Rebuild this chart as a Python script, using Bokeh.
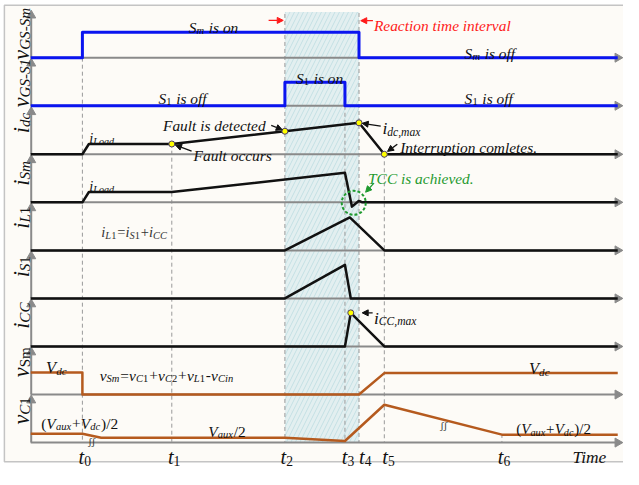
import math
from bokeh.plotting import figure
from bokeh.models import Range1d, Arrow, NormalHead
from bokeh.core.properties import value
from bokeh.embed import file_html
from bokeh.resources import INLINE

# ---------------- data (time in arbitrary units) ----------------
t_labels = ["0", "1", "2", "3", "4", "5", "6"]
t_marks = [1.000, 2.730, 4.919, 6.081, 6.353, 6.843, 9.119]
T0, T1, T2, T3, T4, T5, T6 = t_marks
T_END = 11.36

vgs_sm_t = [0.0, T0, T0, T4, T4, T_END]
vgs_sm_v = [0, 0, 1.0, 1.0, 0, 0]
vgs_s1_t = [0.0, T2, T2, T3, T3, T_END]
vgs_s1_v = [0, 0, 0.92, 0.92, 0, 0]
idc_t = [0.0, T0, 1.126, T1, T2, T4, T5, T_END]
idc_v = [0, 0, 1.0, 1.0, 2.24, 3.06, 0, 0]
ism_t = [0.0, T0, 1.126, T1, T3, 6.217, T4, 6.42, T_END]
ism_v = [0, 0, 1.0, 1.0, 2.87, -0.42, 0.15, 0, 0]
il1_t = [0.0, T2, 6.175, T5, T_END]
il1_v = [0, 0, 3.2, 0, 0]
is1_t = [0.0, T2, T3, 6.194, T_END]
is1_v = [0, 0, 3.27, 0, 0]
icc_t = [0.0, T3, 6.194, T5, T_END]
icc_v = [0, 0, 3.27, 0, 0]
vsm_t = [0.0, T0, T0, T4, T5, T_END]
vsm_v = [1.0, 1.0, 0, 0, 0.97, 0.97]
vc1_t = [0.0, T0, 1.364, T2, T3, T5, T6, T_END]
vc1_v = [0.40, 0.40, 0.22, 0.22, 0.07, 1.71, 0.36, 0.36]

# key points (yellow dots)
idc_pts_t = [T1, T2, T4, T5]
idc_pts_v = [1.0, 2.24, 3.06, 0.0]
icc_pt_t = [6.194]
icc_pt_v = [3.27]

# ---------------- layout ----------------
PX0, PPU = 31.0, 53.0          # reference px of time origin, px per time unit
REF_W, REF_H = 639.0, 488.0
BASES = [59.5, 109.5, 160, 210, 260, 310, 360, 410, 460]
SCALES = [26.5, 26.5, 10.7, 10.7, 10.7, 10.7, 10.7, 23.0, 23.0]
S = 0.965

def X(px):
    return (px - PX0) / PPU

def Y(py):
    return REF_H - py

def PY(i, v):
    return BASES[i] - SCALES[i] * v

p = figure(width=623, height=469, output_backend="svg", toolbar_location=None,
           x_range=Range1d(X(0), X(REF_W)), y_range=Range1d(0, REF_H),
           x_axis_type=None, y_axis_type=None, min_border=0)
p.grid.visible = False
p.outline_line_color = None
p.background_fill_color = "white"
p.border_fill_color = "white"

# frame
p.quad(left=[X(4)], right=[X(660)], top=[Y(5)], bottom=[Y(480)],
       fill_color="#fdfbf7", line_color="#c4c4c4", line_width=1.5)

# shaded reaction interval
p.quad(left=[T2], right=[T4], top=[Y(12)], bottom=[Y(460)],
       fill_color="#e3eff0", line_color=None,
       hatch_pattern="/", hatch_color="#c4e0e4", hatch_scale=9, hatch_weight=1)

# dashed time markers (top, bottom in ref px)
dash_spans = [(59.5, 460), (149, 460), (14, 460), (109.5, 460), (13, 460), (160, 460), (451, 460)]
for tm, (a, b) in zip(t_marks, dash_spans):
    p.segment(x0=[tm], y0=[Y(a)], x1=[tm], y1=[Y(b)], line_color="#9a9a9a",
              line_width=1, line_dash="4 3")

# axes
AX = "#8a8a8a"
for i, b in enumerate(BASES):
    p.segment(x0=[X(31)], y0=[Y(b)], x1=[X(631)], y1=[Y(b)], line_color=AX, line_width=2)
    p.scatter(x=[X(633)], y=[Y(b)], marker="triangle", size=9, angle=-math.pi / 2,
              fill_color=AX, line_color=AX)
    p.segment(x0=[X(31.5)], y0=[Y(b)], x1=[X(31.5)], y1=[Y(b - 42)], line_color=AX, line_width=2)
    p.scatter(x=[X(31.5)], y=[Y(b - 44)], marker="triangle", size=9,
              fill_color=AX, line_color=AX)

# signals
BLUE, BLACK, BROWN = "#0a14f0", "#111111", "#b55a1e"
signals = [
    (0, vgs_sm_t, vgs_sm_v, BLUE, 3),
    (1, vgs_s1_t, vgs_s1_v, BLUE, 3),
    (2, idc_t, idc_v, BLACK, 2.5),
    (3, ism_t, ism_v, BLACK, 2.5),
    (4, il1_t, il1_v, BLACK, 2.5),
    (5, is1_t, is1_v, BLACK, 2.5),
    (6, icc_t, icc_v, BLACK, 2.5),
    (7, vsm_t, vsm_v, BROWN, 2.5),
    (8, vc1_t, vc1_v, BROWN, 2.5),
]
for i, ts, vs, col, lw in signals:
    p.line(x=ts, y=[Y(PY(i, v)) for v in vs], line_color=col, line_width=lw, line_join="round")

# yellow dots
p.scatter(x=idc_pts_t, y=[Y(PY(2, v)) for v in idc_pts_v], size=6,
          fill_color="#ffff00", line_color="#4b3b6b", line_width=1)
p.scatter(x=icc_pt_t, y=[Y(PY(6, v)) for v in icc_pt_v], size=6,
          fill_color="#ffff00", line_color="#4b3b6b", line_width=1)

GREEN = "#1f9a2f"
RED = "#ff1a1a"
p.scatter(x=[X(362.3)], y=[Y(210.5)], marker="circle", size=24, fill_color=None,
          line_color=GREEN, line_width=2, line_dash="3 2")

# ---------------- text helpers ----------------
W_IT = {'a': 500, 'b': 500, 'c': 444, 'd': 500, 'e': 444, 'f': 278, 'g': 500, 'h': 500,
        'i': 278, 'j': 278, 'k': 444, 'l': 278, 'm': 722, 'n': 500, 'o': 500, 'p': 500,
        'q': 500, 'r': 389, 's': 389, 't': 278, 'u': 500, 'v': 444, 'w': 667, 'x': 444,
        'y': 444, 'z': 389, 'A': 611, 'C': 667, 'D': 722, 'F': 611, 'G': 722, 'I': 333,
        'L': 556, 'M': 833, 'R': 611, 'S': 500, 'T': 556, 'V': 611, ' ': 250, '.': 250,
        ',': 250, '-': 333, '(': 333, ')': 333, '/': 278, '=': 675, '+': 675}
W_RG = {' ': 250, '=': 564, '+': 564, '-': 333, '(': 333, ')': 333, '/': 278, '.': 250}

def wid(s, italic):
    tab = W_IT if italic else W_RG
    return sum(tab.get(ch, 500) for ch in s) / 1000.0

def rich(px, py, runs, F, color="#111111", angle=0.0, sub=0.68, drop=0.22, align="left"):
    items, total, prev_sub = [], 0.0, False
    for txt, kind in runs:
        is_sub = kind.startswith("s")
        italic = kind.endswith("i")
        size = F * sub if is_sub else F
        if prev_sub and not is_sub:
            total += 0.05 * F
        # leading spaces are collapsed in SVG text: turn them into an advance
        stripped = txt.lstrip(" ")
        total += (len(txt) - len(stripped)) * 0.25 * size
        items.append((stripped, size, italic, is_sub, total))
        total += wid(stripped, italic) * size
        prev_sub = is_sub
    off0 = -total / 2 if align == "center" else 0.0
    ca, sa = math.cos(angle), math.sin(angle)
    for txt, size, italic, is_sub, adv in items:
        a = adv + off0
        d = F * drop if is_sub else 0.0
        x = px + a * ca + d * sa
        y = py - a * sa + d * ca
        p.text(x=[X(x)], y=[Y(y)], text=[txt], angle=angle,
               text_font=value("Liberation Serif"),
               text_font_style="italic" if italic else "normal",
               text_font_size=f"{size * S:.1f}px", text_color=color,
               text_align="left", text_baseline="alphabetic")

def arrow(x0, y0, x1, y1, color="#111111"):
    p.add_layout(Arrow(x_start=X(x0), y_start=Y(y0), x_end=X(x1), y_end=Y(y1),
                       line_color=color, line_width=1.3,
                       end=NormalHead(size=6, fill_color=color, line_color=color)))

# y-axis labels (rotated)
ylabels = [
    [("v", "i"), ("GS-Sm", "si")],
    [("v", "i"), ("GS-S1", "si")],
    [("i", "i"), ("dc", "si")],
    [("i", "i"), ("Sm", "si")],
    [("i", "i"), ("L", "si"), ("1", "sr")],
    [("i", "i"), ("S", "si"), ("1", "sr")],
    [("i", "i"), ("CC", "si")],
    [("v", "i"), ("Sm", "sr")],
    [("v", "i"), ("C", "si"), ("1", "sr")],
]
ycent = [34.7, 86, 127.5, 180, 226, 277, 328, 379, 427]
for runs, yc in zip(ylabels, ycent):
    rich(22, yc, runs, 23, angle=math.pi / 2, align="center", sub=0.68, drop=0.12)

# state annotations
rich(193, 28, [("S", "i"), ("m", "si"), (" is on", "i")], 16)
rich(476, 55, [("S", "i"), ("m", "si"), (" is off", "i")], 16)
rich(162, 101.5, [("S", "i"), ("1", "sr"), (" is off", "i")], 16)
rich(303, 81, [("S", "i"), ("1", "sr"), (" is on", "i")], 16)
rich(476, 101.5, [("S", "i"), ("1", "sr"), (" is off", "i")], 16)
rich(383, 26, [("Reaction time interval", "i")], 16, color=RED)
arrow(275, 20.7, 290, 20.7, RED)
arrow(382, 21, 369.5, 21, RED)

rich(91, 143, [("i", "i"), ("Load", "si")], 15, sub=0.7)
rich(91, 193.3, [("i", "i"), ("Load", "si")], 15, sub=0.7)
rich(166.7, 130.5, [("Fault is detected", "i")], 16)
arrow(277.7, 130, 289, 134.5)
rich(198, 161, [("Fault occurs", "i")], 16)
arrow(196, 156.7, 179.5, 150.5)
rich(391.7, 133, [("i", "i"), ("dc,max", "si")], 18, sub=0.67)
arrow(390, 130.7, 371, 127.8)
rich(410, 153, [("Interruption comletes.", "i")], 16)
arrow(407, 149.5, 397, 157)
rich(377, 185, [("TCC is achieved.", "i")], 16, color=GREEN)
arrow(383, 190, 374.5, 199.5, GREEN)

rich(103.3, 240.7, [("i", "i"), ("L", "si"), ("1", "sr"), ("=", "r"), ("i", "i"), ("S", "si"),
                    ("1", "sr"), ("+", "r"), ("i", "i"), ("CC", "si")], 15, color="#333333", sub=0.72)
rich(383, 330, [("i", "i"), ("CC,max", "si")], 18, sub=0.67)
arrow(381.7, 325, 371, 325)

rich(46.7, 381.7, [("V", "i"), ("dc", "si")], 17)
rich(542, 382.7, [("V", "i"), ("dc", "si")], 17)
rich(101.7, 390, [("v", "i"), ("Sm", "si"), ("=", "r"), ("v", "i"), ("C", "si"), ("1", "sr"),
                  ("+", "r"), ("v", "i"), ("C", "si"), ("2", "sr"), ("+", "r"), ("v", "i"),
                  ("L", "si"), ("1", "sr"), ("-", "r"), ("v", "i"), ("C", "si"), ("in", "si")], 16)
rich(41.7, 440, [("(", "r"), ("V", "i"), ("aux", "si"), ("+", "r"), ("V", "i"), ("dc", "si"),
                 (")/2", "r")], 16)
rich(213, 448, [("V", "i"), ("aux", "si"), ("/2", "r")], 16)
rich(529, 446, [("(", "r"), ("V", "i"), ("aux", "si"), ("+", "r"), ("V", "i"), ("dc", "si"),
                (")/2", "r")], 15.5)
# break marks
rich(90, 459, [("ʃʃ", "r")], 11, color="#333333")
rich(451, 442, [("ʃʃ", "r")], 11, color="#333333")

# time labels
t_off = [-4, -4, -4.4, -3.3, 0, -2, -4.3]
for tm, lab, off in zip(t_marks, t_labels, t_off):
    rich(PX0 + tm * PPU + off, 475.5, [("t", "i"), (lab, "sr")], 21, sub=0.67, drop=0.18)
rich(586.7, 475.5, [("Time", "i")], 18)

open("out.html", "w").write(file_html(p, INLINE))
